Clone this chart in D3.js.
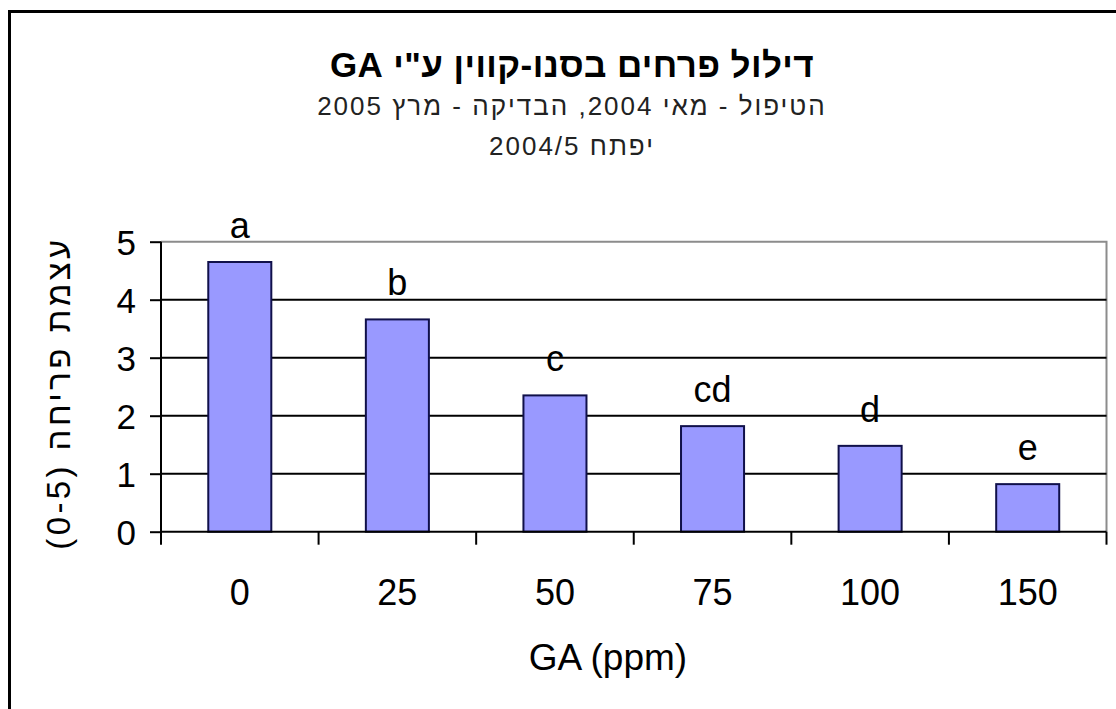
<!DOCTYPE html>
<html>
<head>
<meta charset="utf-8">
<script src="https://cdn.jsdelivr.net/npm/d3@7"></script>
<style>
  html, body { margin: 0; padding: 0; background: #fff; }
  svg { display: block; }
  text { font-family: "Liberation Sans", Arial, "DejaVu Sans", sans-serif; fill: #000; }
</style>
</head>
<body>
<svg id="chart" width="1116" height="709"></svg>
<script>
// GA concentrations (ppm) and mean flowering intensity (0-5 scale)
const categories = ["0", "25", "50", "75", "100", "150"];
const values = [4.65, 3.66, 2.35, 1.82, 1.48, 0.82];
const groupLetters = ["a", "b", "c", "cd", "d", "e"];
const yTicks = [0, 1, 2, 3, 4, 5];

const titleText = "דילול פרחים בסנו-קווין ע\"י GA";
const subtitleLines = ["הטיפול - מאי 2004, הבדיקה - מרץ 2005", "יפתח 2004/5"];
const xAxisTitle = "GA (ppm)";
const yAxisTitle = "עצמת פריחה (0-5)";

const svg = d3.select("#chart");

// outer chart frame
svg.append("rect")
  .attr("x", 9.5).attr("y", 11.5)
  .attr("width", 1140).attr("height", 720)
  .attr("fill", "#fff").attr("stroke", "#000").attr("stroke-width", 3);

const plot = { left: 161, right: 1106.5, top: 241.7, bottom: 531.7 };

const x = d3.scaleBand()
  .domain(categories)
  .range([plot.left, plot.right])
  .paddingInner(0.6)
  .paddingOuter(0.3);

const y = d3.scaleLinear()
  .domain([0, 5])
  .range([plot.bottom, plot.top]);

// plot area border (top / right, gray)
svg.append("path")
  .attr("d", `M${plot.left},${y(5)}H${plot.right}V${plot.bottom}`)
  .attr("fill", "none").attr("stroke", "#8c8c8c").attr("stroke-width", 2);

// horizontal gridlines
svg.append("g")
  .selectAll("line")
  .data(yTicks.filter(t => t > 0 && t < 5))
  .join("line")
  .attr("x1", plot.left).attr("x2", plot.right)
  .attr("y1", d => y(d)).attr("y2", d => y(d))
  .attr("stroke", "#000").attr("stroke-width", 2);

// bars
svg.append("g")
  .selectAll("rect")
  .data(values)
  .join("rect")
  .attr("x", (d, i) => x(categories[i]))
  .attr("y", d => y(d))
  .attr("width", x.bandwidth())
  .attr("height", d => y(0) - y(d))
  .attr("fill", "#9999ff")
  .attr("stroke", "#10104a")
  .attr("stroke-width", 2);

// significance letters above bars
svg.append("g")
  .selectAll("text")
  .data(values)
  .join("text")
  .attr("x", (d, i) => x(categories[i]) + x.bandwidth() / 2)
  .attr("y", d => y(d) - 24)
  .attr("text-anchor", "middle")
  .attr("font-size", 36)
  .text((d, i) => groupLetters[i]);

// y axis
const yAxis = d3.axisLeft(y).tickValues(yTicks).tickSize(11).tickPadding(14).tickFormat(d3.format("d"));
const gy = svg.append("g").attr("transform", `translate(${plot.left},0)`).call(yAxis);
gy.select(".domain").remove();
gy.selectAll(".tick line").attr("stroke", "#000").attr("stroke-width", 2);
gy.selectAll(".tick text").attr("font-size", 35).attr("font-family", null).attr("dy", "0.36em");
svg.append("line")
  .attr("x1", plot.left).attr("x2", plot.left)
  .attr("y1", plot.top).attr("y2", plot.bottom + 13)
  .attr("stroke", "#000").attr("stroke-width", 2);

// x axis: baseline, boundary ticks, centered labels
const xb = svg.append("g");
xb.append("line")
  .attr("x1", plot.left).attr("x2", plot.right)
  .attr("y1", y(0)).attr("y2", y(0))
  .attr("stroke", "#000").attr("stroke-width", 2);
const step = x.step();
const firstEdge = x(categories[0]) - x.paddingOuter() * step;
xb.selectAll(".xtick")
  .data(categories.map((c, i) => i + 1))
  .join("line")
  .attr("class", "xtick")
  .attr("x1", i => firstEdge + i * step)
  .attr("x2", i => firstEdge + i * step)
  .attr("y1", y(0)).attr("y2", y(0) + 13)
  .attr("stroke", "#000").attr("stroke-width", 2);
xb.selectAll(".xlabel")
  .data(categories)
  .join("text")
  .attr("class", "xlabel")
  .attr("x", d => x(d) + x.bandwidth() / 2)
  .attr("y", 605)
  .attr("text-anchor", "middle")
  .attr("font-size", 36)
  .text(d => d);

// axis titles
svg.append("text")
  .attr("x", 608).attr("y", 670)
  .attr("text-anchor", "middle")
  .attr("font-size", 37)
  .text(xAxisTitle);

svg.append("text")
  .attr("transform", "translate(70,393) rotate(-90)")
  .attr("text-anchor", "middle")
  .attr("direction", "rtl")
  .attr("font-size", 33)
  .attr("letter-spacing", 3.4)
  .text(yAxisTitle);

// titles
svg.append("text")
  .attr("x", 572).attr("y", 77)
  .attr("text-anchor", "middle")
  .attr("direction", "rtl")
  .attr("font-size", 35)
  .attr("letter-spacing", 0.4)
  .attr("font-weight", "bold")
  .text(titleText);

svg.selectAll(".subtitle")
  .data(subtitleLines)
  .join("text")
  .attr("class", "subtitle")
  .attr("x", 572)
  .attr("y", (d, i) => 115 + i * 40)
  .attr("text-anchor", "middle")
  .attr("direction", "rtl")
  .attr("font-size", 26)
  .attr("letter-spacing", 2)
  .style("fill", "#222")
  .text(d => d);
</script>
</body>
</html>
